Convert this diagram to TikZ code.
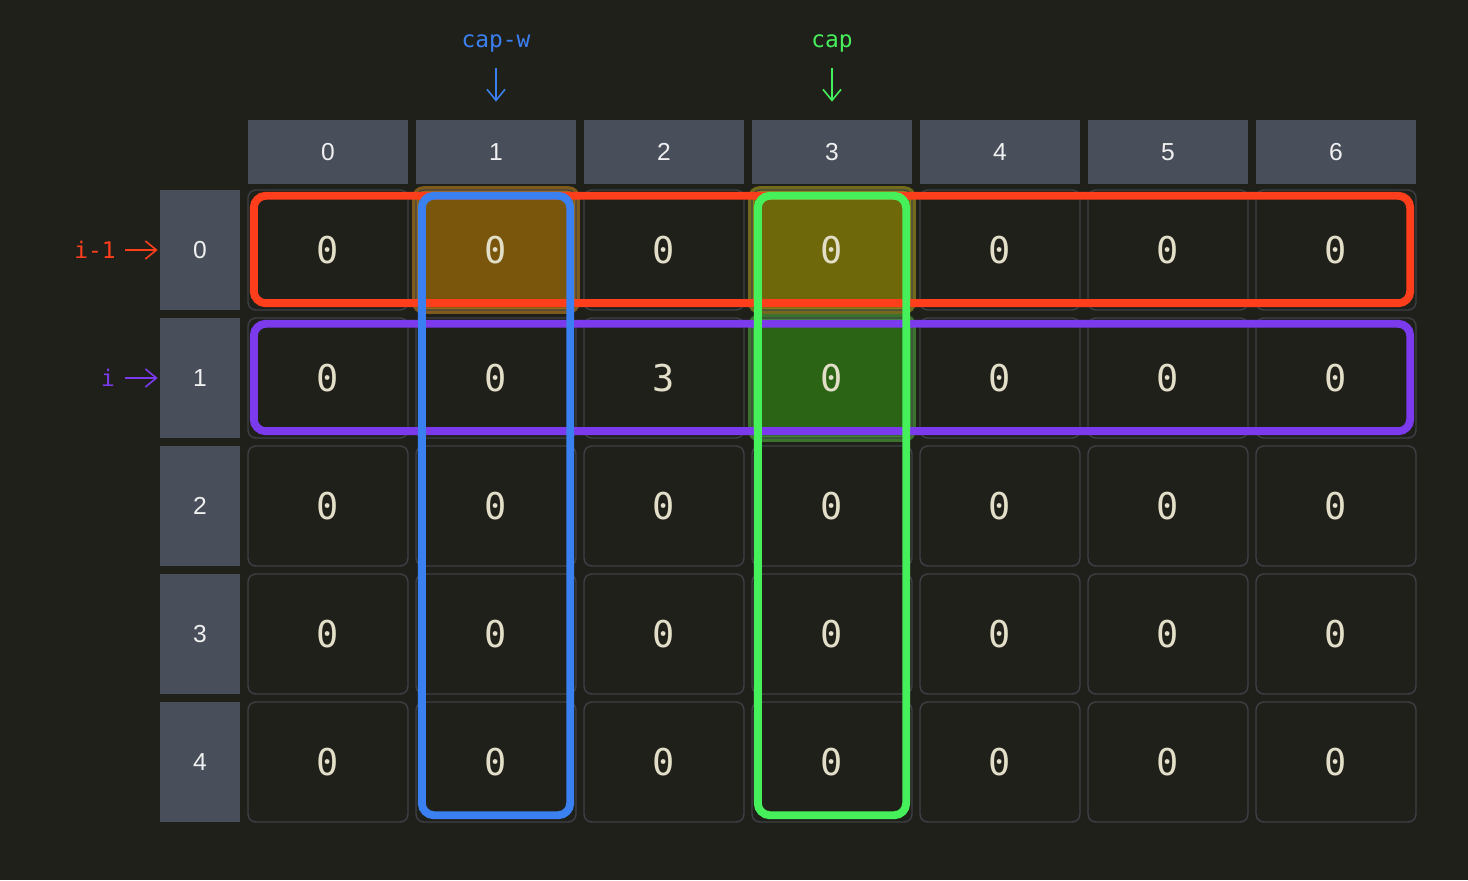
\documentclass[tikz,border=0pt]{standalone}
\usepackage{fontspec}
\setmainfont{Liberation Sans}
\newfontfamily\monofont{DejaVu Sans Mono}
\usetikzlibrary{arrows.meta,calc,backgrounds}

\definecolor{bgdark}{RGB}{32,32,27}
\definecolor{headgray}{RGB}{72,78,90}
\definecolor{cellline}{RGB}{60,63,68}
\definecolor{numcol}{RGB}{226,222,200}
\definecolor{cRed}{RGB}{255,62,28}
\definecolor{cPurple}{RGB}{124,58,237}
\definecolor{cBlue}{RGB}{59,128,240}
\definecolor{cGreen}{RGB}{70,240,90}

\tikzset{
  head/.style={fill=headgray, text=white!88!gray, minimum width=3.2cm, minimum height=1.28cm, inner sep=0pt, font=\fontsize{14}{16}\selectfont},
  rowhead/.style={head, minimum width=1.6cm, minimum height=2.4cm},
  cell/.style={draw=cellline, line width=0.8pt, rounded corners=0.16cm, minimum width=3.2cm, minimum height=2.4cm, inner sep=0pt, text=numcol, font=\monofont\fontsize{21}{24}\selectfont},
  band/.style={line width=4.5pt, rounded corners=0.24cm},
  lbl/.style={font=\monofont\fontsize{13}{15}\selectfont},
  pointer/.style={-{Straight Barb[length=2.2mm,width=3.6mm]}, line width=0.9pt},
  hlorange/.style={fill={rgb,255:red,122;green,86;blue,12}, draw={rgb,255:red,170;green,115;blue,30}, draw opacity=0.7, line width=3.5pt, rounded corners=0.16cm},
  hlolive/.style={fill={rgb,255:red,110;green,104;blue,10}, draw={rgb,255:red,150;green,140;blue,30}, draw opacity=0.7, line width=3.5pt, rounded corners=0.16cm},
  hlgreen/.style={fill={rgb,255:red,44;green,100;blue,22}, draw={rgb,255:red,70;green,150;blue,55}, draw opacity=0.7, line width=3.5pt, rounded corners=0.16cm}
}

\begin{document}
\begin{tikzpicture}
\begin{scope}[on background layer]
\fill[bgdark] (0,0) rectangle (29.36,17.6);
\end{scope}

% column and row headers
\foreach \c in {0,...,6} \node[head] (h\c) at ({6.56+3.36*\c},14.56) {\c};
\foreach \r in {0,...,4} \node[rowhead] (r\r) at (4.0,{12.6-2.56*\r}) {\r};

% table
\foreach \r in {0,2,3,4} \foreach \c in {0,...,6} \node[cell] (c\r\c) at ({6.56+3.36*\c},{12.6-2.56*\r}) {0};
\foreach \c/\v in {0/0,1/0,2/3,3/0,4/0,5/0,6/0} \node[cell] (c1\c) at ({6.56+3.36*\c},10.04) {\v};

\begin{scope}[on background layer]
\draw[hlorange] (c01.north west) rectangle (c01.south east);
\draw[hlolive] (c03.north west) rectangle (c03.south east);
\draw[hlgreen] (c13.north west) rectangle (c13.south east);
\end{scope}

% rows i-1, i
\draw[band,cRed] ($(c00.north west)+(0.13,-0.13)$) rectangle ($(c06.south east)+(-0.13,0.15)$);
\draw[band,cPurple] ($(c10.north west)+(0.13,-0.13)$) rectangle ($(c16.south east)+(-0.13,0.15)$);
% columns cap-w, cap
\draw[band,cBlue] ($(c01.north west)+(0.13,-0.13)$) rectangle ($(c41.south east)+(-0.13,0.15)$);
\draw[band,cGreen] ($(c03.north west)+(0.13,-0.13)$) rectangle ($(c43.south east)+(-0.13,0.15)$);

\node[lbl,text=cBlue] (capw) at (9.92,16.74) {cap-w};
\node[lbl,text=cGreen] (cap) at (16.64,16.74) {cap};
\node[lbl,text=cRed] (prev) at (1.9,12.6) {i-1};
\node[lbl,text=cPurple] (cur) at (2.16,10.04) {i};

\draw[pointer,cBlue,shorten <=0.2cm,shorten >=0.36cm] (capw) -- (h1);
\draw[pointer,cGreen,shorten <=0.2cm,shorten >=0.36cm] (cap) -- (h3);
\draw[pointer,cRed,shorten <=0.07cm,shorten >=0.04cm] (prev) -- (r0);
\draw[pointer,cPurple,shorten <=0.08cm,shorten >=0.04cm] (cur) -- (r1);

\end{tikzpicture}
\end{document}
